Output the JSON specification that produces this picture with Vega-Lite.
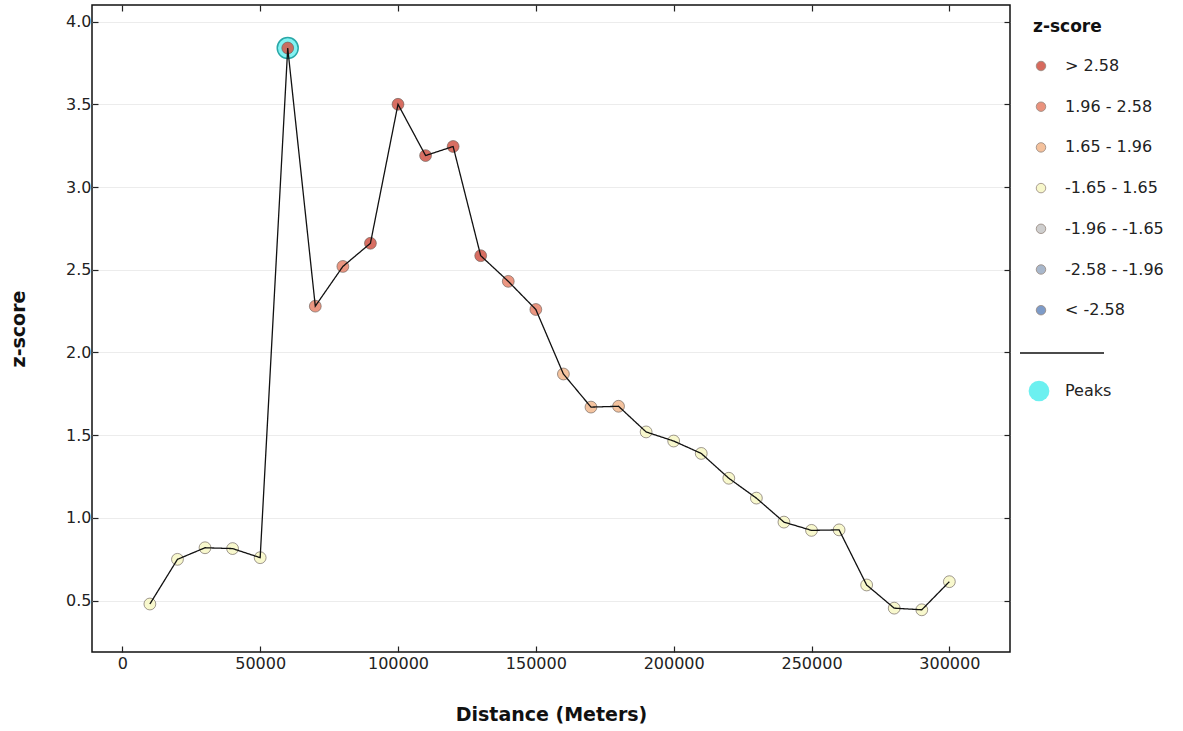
{
  "$schema": "https://vega.github.io/schema/vega-lite/v6.json",
  "autosize": "none",
  "width": 918,
  "height": 647,
  "padding": {"left": 92, "top": 5, "right": 173, "bottom": 79},
  "background": "white",
  "data": {
    "values": [
      {"d": 10000, "z": 0.48, "cat": "-1.65 - 1.65", "peak": false},
      {"d": 20000, "z": 0.75, "cat": "-1.65 - 1.65", "peak": false},
      {"d": 30000, "z": 0.82, "cat": "-1.65 - 1.65", "peak": false},
      {"d": 40000, "z": 0.815, "cat": "-1.65 - 1.65", "peak": false},
      {"d": 50000, "z": 0.76, "cat": "-1.65 - 1.65", "peak": false},
      {"d": 60000, "z": 3.84, "cat": "> 2.58", "peak": true},
      {"d": 70000, "z": 2.28, "cat": "1.96 - 2.58", "peak": false},
      {"d": 80000, "z": 2.52, "cat": "1.96 - 2.58", "peak": false},
      {"d": 90000, "z": 2.66, "cat": "> 2.58", "peak": false},
      {"d": 100000, "z": 3.5, "cat": "> 2.58", "peak": false},
      {"d": 110000, "z": 3.19, "cat": "> 2.58", "peak": false},
      {"d": 120000, "z": 3.245, "cat": "> 2.58", "peak": false},
      {"d": 130000, "z": 2.585, "cat": "> 2.58", "peak": false},
      {"d": 140000, "z": 2.43, "cat": "1.96 - 2.58", "peak": false},
      {"d": 150000, "z": 2.26, "cat": "1.96 - 2.58", "peak": false},
      {"d": 160000, "z": 1.87, "cat": "1.65 - 1.96", "peak": false},
      {"d": 170000, "z": 1.67, "cat": "1.65 - 1.96", "peak": false},
      {"d": 180000, "z": 1.675, "cat": "1.65 - 1.96", "peak": false},
      {"d": 190000, "z": 1.52, "cat": "-1.65 - 1.65", "peak": false},
      {"d": 200000, "z": 1.465, "cat": "-1.65 - 1.65", "peak": false},
      {"d": 210000, "z": 1.39, "cat": "-1.65 - 1.65", "peak": false},
      {"d": 220000, "z": 1.24, "cat": "-1.65 - 1.65", "peak": false},
      {"d": 230000, "z": 1.12, "cat": "-1.65 - 1.65", "peak": false},
      {"d": 240000, "z": 0.975, "cat": "-1.65 - 1.65", "peak": false},
      {"d": 250000, "z": 0.925, "cat": "-1.65 - 1.65", "peak": false},
      {"d": 260000, "z": 0.928, "cat": "-1.65 - 1.65", "peak": false},
      {"d": 270000, "z": 0.595, "cat": "-1.65 - 1.65", "peak": false},
      {"d": 280000, "z": 0.455, "cat": "-1.65 - 1.65", "peak": false},
      {"d": 290000, "z": 0.445, "cat": "-1.65 - 1.65", "peak": false},
      {"d": 300000, "z": 0.615, "cat": "-1.65 - 1.65", "peak": false}
    ]
  },
  "resolve": {"axis": {"x": "independent", "y": "independent"}},
  "layer": [
    {
      "transform": [{"filter": "datum.peak"}],
      "mark": {"type": "point", "filled": true, "size": 440, "fill": "#6cf0f0", "fillOpacity": 0.85, "stroke": "#2aa8a8", "strokeWidth": 1.5},
      "encoding": {
        "x": {"field": "d", "type": "quantitative", "scale": {"domain": [-11000, 322000], "nice": false, "zero": false}, "axis": null},
        "y": {"field": "z", "type": "quantitative", "scale": {"domain": [0.19, 4.1], "nice": false, "zero": false}, "axis": null},
        "shape": {"datum": "Peaks", "scale": {"domain": ["Peaks"], "range": ["circle"]},
          "legend": {"title": null, "orient": "none", "legendX": 936, "legendY": 375, "symbolSize": 430, "symbolFillColor": "#86f4f4", "symbolStrokeColor": "#7fc9c9", "symbolStrokeWidth": 1, "symbolOpacity": 1, "labelOffset": 15, "padding": 0}}
      }
    },
    {
      "mark": {"type": "point", "filled": true, "size": 140, "fillOpacity": 0.88, "stroke": "#6a5f58", "strokeWidth": 0.8, "strokeOpacity": 0.8},
      "encoding": {
        "x": {"field": "d", "type": "quantitative",
          "axis": {"orient": "bottom", "values": [0, 50000, 100000, 150000, 200000, 250000, 300000], "format": "d", "title": "Distance (Meters)", "grid": false, "labelPadding": 9, "titlePadding": 34}},
        "y": {"field": "z", "type": "quantitative",
          "axis": {"orient": "left", "values": [0.5, 1.0, 1.5, 2.0, 2.5, 3.0, 3.5, 4.0], "format": ".1f", "title": "z-score", "grid": true, "labelPadding": 7, "titlePadding": 37}},
        "fill": {"field": "cat", "type": "nominal",
          "scale": {"domain": ["> 2.58", "1.96 - 2.58", "1.65 - 1.96", "-1.65 - 1.65", "-1.96 - -1.65", "-2.58 - -1.96", "< -2.58"],
            "range": ["#d35a4c", "#e8876f", "#f3bb92", "#f7f7c6", "#c9c9c9", "#9fb0c6", "#6f91c3"]},
          "legend": {"title": "z-score", "orient": "none", "legendX": 941, "legendY": 14, "symbolType": "circle", "symbolSize": 90, "symbolStrokeColor": "#8a7a70", "symbolStrokeWidth": 0.8, "symbolOpacity": 0.9, "labelOffset": 16, "rowPadding": 24.7, "titlePadding": 22, "padding": 0}
        }
      }
    },
    {
      "mark": {"type": "line", "color": "#111", "strokeWidth": 1.3},
      "encoding": {
        "x": {"field": "d", "type": "quantitative", "axis": {"orient": "top", "values": [0, 50000, 100000, 150000, 200000, 250000, 300000], "labels": false, "title": null, "grid": false}},
        "y": {"field": "z", "type": "quantitative", "axis": {"orient": "right", "values": [0.5, 1.0, 1.5, 2.0, 2.5, 3.0, 3.5, 4.0], "labels": false, "title": null, "grid": false}},
        "strokeDash": {"datum": "sep", "scale": {"domain": ["sep"], "range": [[1, 0]]},
          "legend": {"title": null, "orient": "none", "legendX": 927, "legendY": 305, "symbolType": "stroke", "symbolSize": 7056, "symbolStrokeColor": "#111", "symbolStrokeWidth": 1.5, "labelExpr": "''", "padding": 0}}
      }
    }
  ],
  "config": {
    "font": "DejaVu Sans",
    "view": {"stroke": "#111", "strokeWidth": 1.5},
    "axis": {"labelFontSize": 16, "labelColor": "#222", "labelFont": "DejaVu Sans", "titleFontSize": 19, "titleFontWeight": "bold", "titleColor": "#111", "tickColor": "#222", "tickSize": -6, "tickWidth": 1.2, "gridColor": "#ececec", "gridWidth": 1, "domain": false},
    "legend": {"labelFontSize": 16, "labelColor": "#222", "titleFontSize": 17, "titleFontWeight": "bold", "titleColor": "#111"}
  }
}
